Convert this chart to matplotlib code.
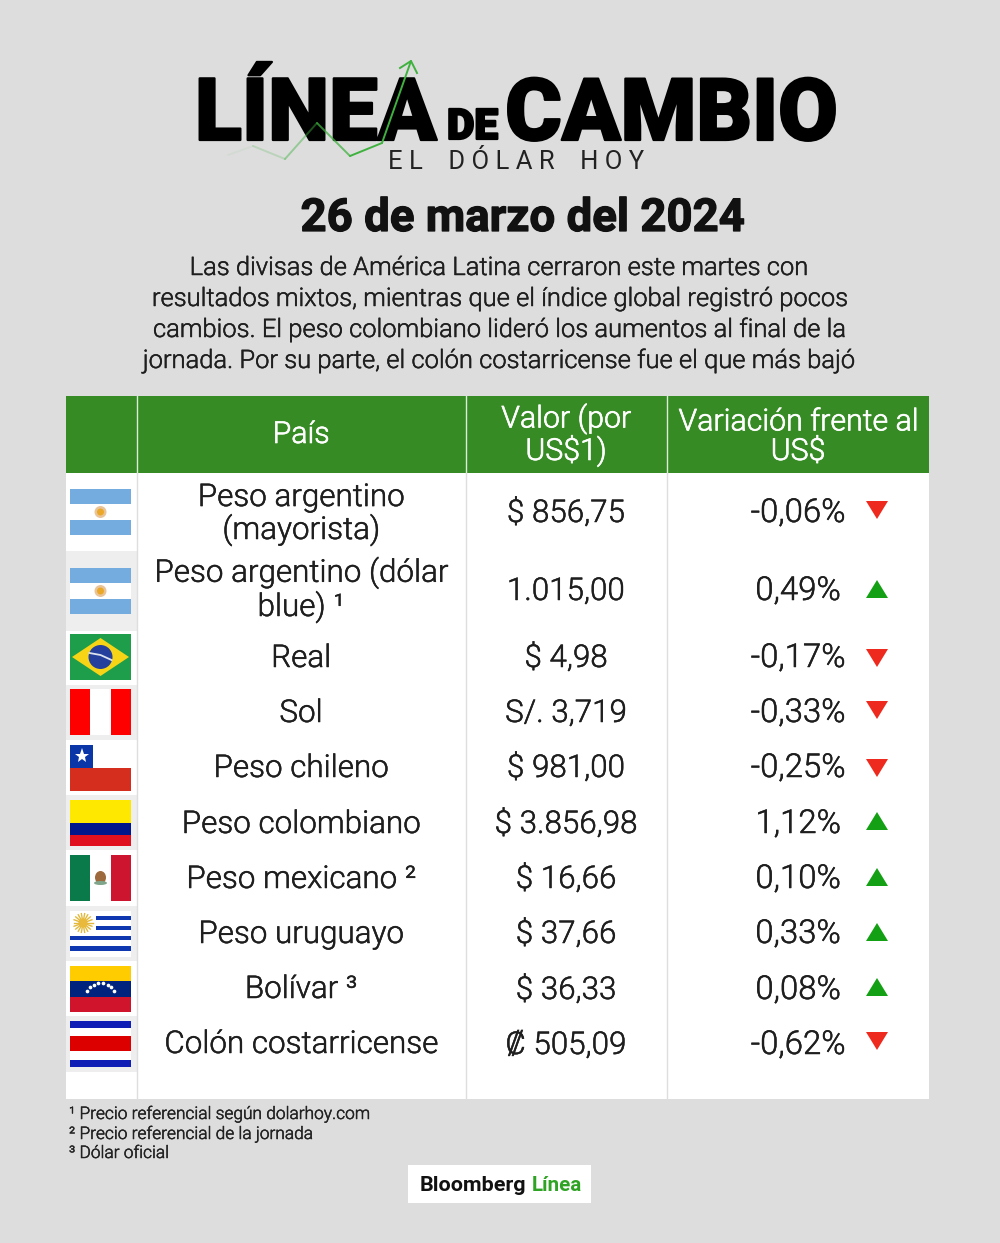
import numpy as np
import matplotlib
matplotlib.use("Agg")
import matplotlib.pyplot as plt
from matplotlib.patches import Rectangle, Polygon, Circle, Ellipse
import matplotlib.patheffects as pe

W, H = 1000, 1243
BG = "#DDDDDD"; GREEN = "#368B24"; INK = "#1E1E1E"; BAND = "#EEEEEE"
FONT = ["Roboto", "DejaVu Sans"]

date_text = "26 de marzo del 2024"
intro_lines = ["Las divisas de América Latina cerraron este martes con",
               "resultados mixtos, mientras que el índice global registró pocos",
               "cambios. El peso colombiano lideró los aumentos al final de la",
               "jornada. Por su parte, el colón costarricense fue el que más bajó"]
headers = ["País", "Valor (por\nUS$1)", "Variación frente al\nUS$"]
currencies = ["Peso argentino\n(mayorista)", "Peso argentino (dólar\nblue) ¹", "Real", "Sol", "Peso chileno",
              "Peso colombiano", "Peso mexicano ²", "Peso uruguayo", "Bolívar ³", "Colón costarricense"]
values = ["$ 856,75", "1.015,00", "$ 4,98", "S/. 3,719", "$ 981,00",
          "$ 3.856,98", "$ 16,66", "$ 37,66", "$ 36,33", "₡ 505,09"]
variations = ["-0,06%", "0,49%", "-0,17%", "-0,33%", "-0,25%", "1,12%", "0,10%", "0,33%", "0,08%", "-0,62%"]
directions = [-1, 1, -1, -1, -1, 1, 1, 1, 1, -1]
flags = ["ar", "ar", "br", "pe", "cl", "co", "mx", "uy", "ve", "cr"]
footnotes = ["¹ Precio referencial según dolarhoy.com", "² Precio referencial de la jornada", "³ Dólar oficial"]

row_edges = [473, 551, 631, 685, 740, 795, 850, 906, 961, 1016, 1072]
text_base = [539, 616, 667, 722, 777, 833, 888, 943, 998, 1053]
value_base = [522, 600, 667, 722, 777, 833, 888, 943, 999, 1054]
arrow_y = [510, 589, 658, 710, 768, 821, 877, 932, 987, 1041]
flag_top = [489, 568, 634, 689, 744.5, 800, 855, 910.5, 966, 1021]
logo_x = [228, 253, 285, 317, 350, 382, 411]
logo_y = [155, 146, 159, 123, 156, 143, 61]
logo_alpha = [0.06, 0.22, 0.45, 0.75, 1, 1]

fig = plt.figure(figsize=(W / 100, H / 100), dpi=100, facecolor=BG)
ax = fig.add_axes([0, 0, 1, 1])
ax.set_xlim(0, W); ax.set_ylim(H, 0); ax.axis("off")
rend = fig.canvas.get_renderer()

def size_for(s, width, **kw):
    t = ax.text(0, 0, s, fontsize=20, family=FONT, **kw)
    w = t.get_window_extent(rend).width
    t.remove()
    return 20 * width / w

def fit(s, x0, x1, base, color=INK, size=None, **kw):
    fs = size if size else size_for(s, x1 - x0, **kw)
    return ax.text((x0 + x1) / 2, base, s, fontsize=fs, family=FONT, color=color,
                   ha="center", va="baseline", **kw)

soft = [pe.withStroke(linewidth=0.35, foreground=INK)]

# Logo
thick = [pe.withStroke(linewidth=1.6, foreground="black")]
for s, x0, x1, b, in [("LÍNEA", 195, 437, 140), ("DE", 447, 498, 139), ("CAMBIO", 505, 838, 140)]:
    fit(s, x0, x1, b, color="black", fontweight=900).set_path_effects(thick)
fit("E L    D Ó L A R    H O Y", 389, 644, 169, color="#222222", fontweight=400)
for i, a in enumerate(logo_alpha):
    ax.plot(logo_x[i:i + 2], logo_y[i:i + 2], color="#3FB13F", lw=1.4, alpha=a, solid_capstyle="round", zorder=5)
ax.plot([400, 411, 417], [68, 61, 73], color="#3FB13F", lw=1.4, zorder=5)

fit(date_text, 301, 744, 231, color="#111111", fontweight=700).set_path_effects(
    [pe.withStroke(linewidth=0.9, foreground="#111111")])
intro_fs = size_for(intro_lines[3], 712, fontweight=300)
for line, b, (x0, x1) in zip(intro_lines, [275, 306, 337, 368], [(186, 812), (151, 849), (155, 844), (143, 855)]):
    fit(line, x0, x1, b, size=intro_fs, fontweight=300).set_path_effects(soft)

# Table
ax.add_patch(Rectangle((65.5, 396), 863.5, 703, fc="white", ec="none"))
ax.add_patch(Rectangle((65.5, 396), 863.5, 77, fc=GREEN, ec="none"))
for i in range(1, len(row_edges) - 1, 2):
    ax.add_patch(Rectangle((65.5, row_edges[i]), 71, row_edges[i + 1] - row_edges[i], fc=BAND, ec="none"))
for x in [136.5, 465.5, 666.5]:
    ax.plot([x, x], [396, 473], color="#DDEBD9", lw=1)
    ax.plot([x, x], [473, 1099], color="#DEDEDE", lw=1)

LS = 1.07
body_fs = size_for("Peso colombiano", 239, fontweight=300)
hdr_fs = size_for("Variación frente al", 240, fontweight=300)
white_soft = [pe.withStroke(linewidth=0.45, foreground="white")]
for s, xc, b in zip(headers, [301, 566, 798], [443, 460, 460]):
    ax.text(xc, b, s, fontsize=hdr_fs, family=FONT, fontweight=300, color="white",
            ha="center", va="baseline", linespacing=LS, multialignment="center").set_path_effects(white_soft)
for i in range(len(currencies)):
    ax.text(301, text_base[i], currencies[i], fontsize=body_fs, family=FONT, fontweight=300, color=INK,
            ha="center", va="baseline", linespacing=LS, multialignment="center").set_path_effects(soft)
    ax.text(566, value_base[i], values[i], fontsize=body_fs, family=FONT, fontweight=300, color=INK,
            ha="center", va="baseline").set_path_effects(soft)
    ax.text(798, value_base[i], variations[i], fontsize=body_fs * 1.05, family=FONT, fontweight=300, color=INK,
            ha="center", va="baseline").set_path_effects(soft)
    up = directions[i] > 0
    yy = arrow_y[i]
    tri = [(866, yy + 9), (888, yy + 9), (877, yy - 9)] if up else [(866, yy - 9), (888, yy - 9), (877, yy + 9)]
    ax.add_patch(Polygon(tri, closed=True, fc="#14A014" if up else "#EE2A1E", ec="none"))

# Flags
FX, FW, FH = 70, 61, 46
def rect(x, y, w, h, c, z=3):
    ax.add_patch(Rectangle((FX + x * FW, y + 0), w * FW, h, fc=c, ec="none", zorder=z))

def draw_flag(code, top):
    def hs(*bands):
        for a, b, c in bands:
            rect(0, top + a * FH, 1, (b - a) * FH, c)
    def vs(*bands):
        for a, b, c in bands:
            rect(a, top, b - a, FH, c)
    cx, cy = FX + FW / 2, top + FH / 2
    if code == "ar":
        hs((0, .33, "#74ACDF"), (.33, .67, "white"), (.67, 1, "#74ACDF"))
        ax.add_patch(Circle((cx, cy), 6, fc="#E9C49A", ec="none", zorder=4))
        ax.add_patch(Circle((cx, cy), 3.5, fc="#EBA828", ec="none", zorder=5))
    elif code == "br":
        hs((0, 1, "#1E9E4A"))
        ax.add_patch(Polygon([(FX + 2, cy), (cx, top + 4), (FX + FW - 2, cy), (cx, top + FH - 4)], fc="#F7D416", ec="none", zorder=4))
        ax.add_patch(Circle((cx, cy), 12, fc="#24409C", ec="none", zorder=5))
        ax.plot([cx - 11, cx, cx + 11], [cy - 4, cy - 2, cy + 3], color="#DDE3EE", lw=1.3, zorder=6)
    elif code == "pe":
        vs((0, .333, "#FF0000"), (.333, .667, "white"), (.667, 1, "#FF0000"))
    elif code == "cl":
        hs((0, .5, "white"), (.5, 1, "#D52E1F"))
        rect(0, top, .375, FH / 2, "#0B36A8")
        ax.plot([FX + 11.5], [top + 11.5], marker="*", ms=11, color="white", mew=0, zorder=5)
    elif code == "co":
        hs((0, .5, "#FFE800"), (.5, .75, "#00178C"), (.75, 1, "#E0101F"))
    elif code == "mx":
        vs((0, .333, "#0B7A4B"), (.333, .667, "white"), (.667, 1, "#CE1530"))
        ax.add_patch(Ellipse((cx, cy - .5), 11, 13, fc="#9C6A3C", ec="none", zorder=5))
        ax.add_patch(Ellipse((cx, cy + 5), 13, 4, fc="#7FA58A", ec="none", zorder=5))
    elif code == "uy":
        hs((0, 1, "white"))
        for a in [.11, .33]:
            rect(.42, top + a * FH, .58, 4.6, "#0F37B0")
        for a in [.55, .77]:
            rect(0, top + a * FH, 1, 4.6, "#0F37B0")
        sx, sy = FX + 13, top + 12.5
        for ang in np.radians(np.arange(0, 360, 20)):
            ax.plot([sx, sx + 9.5 * np.cos(ang)], [sy, sy + 9.5 * np.sin(ang)], color="#E3B93C", lw=1, zorder=4)
        ax.add_patch(Circle((sx, sy), 4.5, fc="#E8B93A", ec="none", zorder=5))
    elif code == "ve":
        hs((0, .333, "#FFCC00"), (.333, .667, "#00247D"), (.667, 1, "#CF142B"))
        ang = np.radians(np.linspace(200, 340, 8))
        ax.scatter(cx + 14 * np.cos(ang), top + 29 + 12 * np.sin(ang), s=7, color="white", linewidths=0, zorder=5)
    elif code == "cr":
        hs((0, 1, "white"), (0, .15, "#0F1FB5"), (.33, .66, "#DD0000"), (.85, 1, "#0F1FB5"))

for code, top in zip(flags, flag_top):
    draw_flag(code, top)

# Footer
fn_fs = size_for(footnotes[0], 301, fontweight=300)
for s, b in zip(footnotes, [1119, 1139, 1158]):
    ax.text(69, b, s, fontsize=fn_fs, family=FONT, fontweight=300, color="#222222", ha="left", va="baseline").set_path_effects(soft)
ax.add_patch(Rectangle((408, 1165), 183, 38, fc="white", ec="none"))
fit("Bloomberg", 420, 526, 1191, color="#111111", fontweight=700)
fit("Línea", 532, 582, 1191, color="#2FA324", fontweight=700)

fig.savefig("out.png", dpi=100, facecolor=BG)
